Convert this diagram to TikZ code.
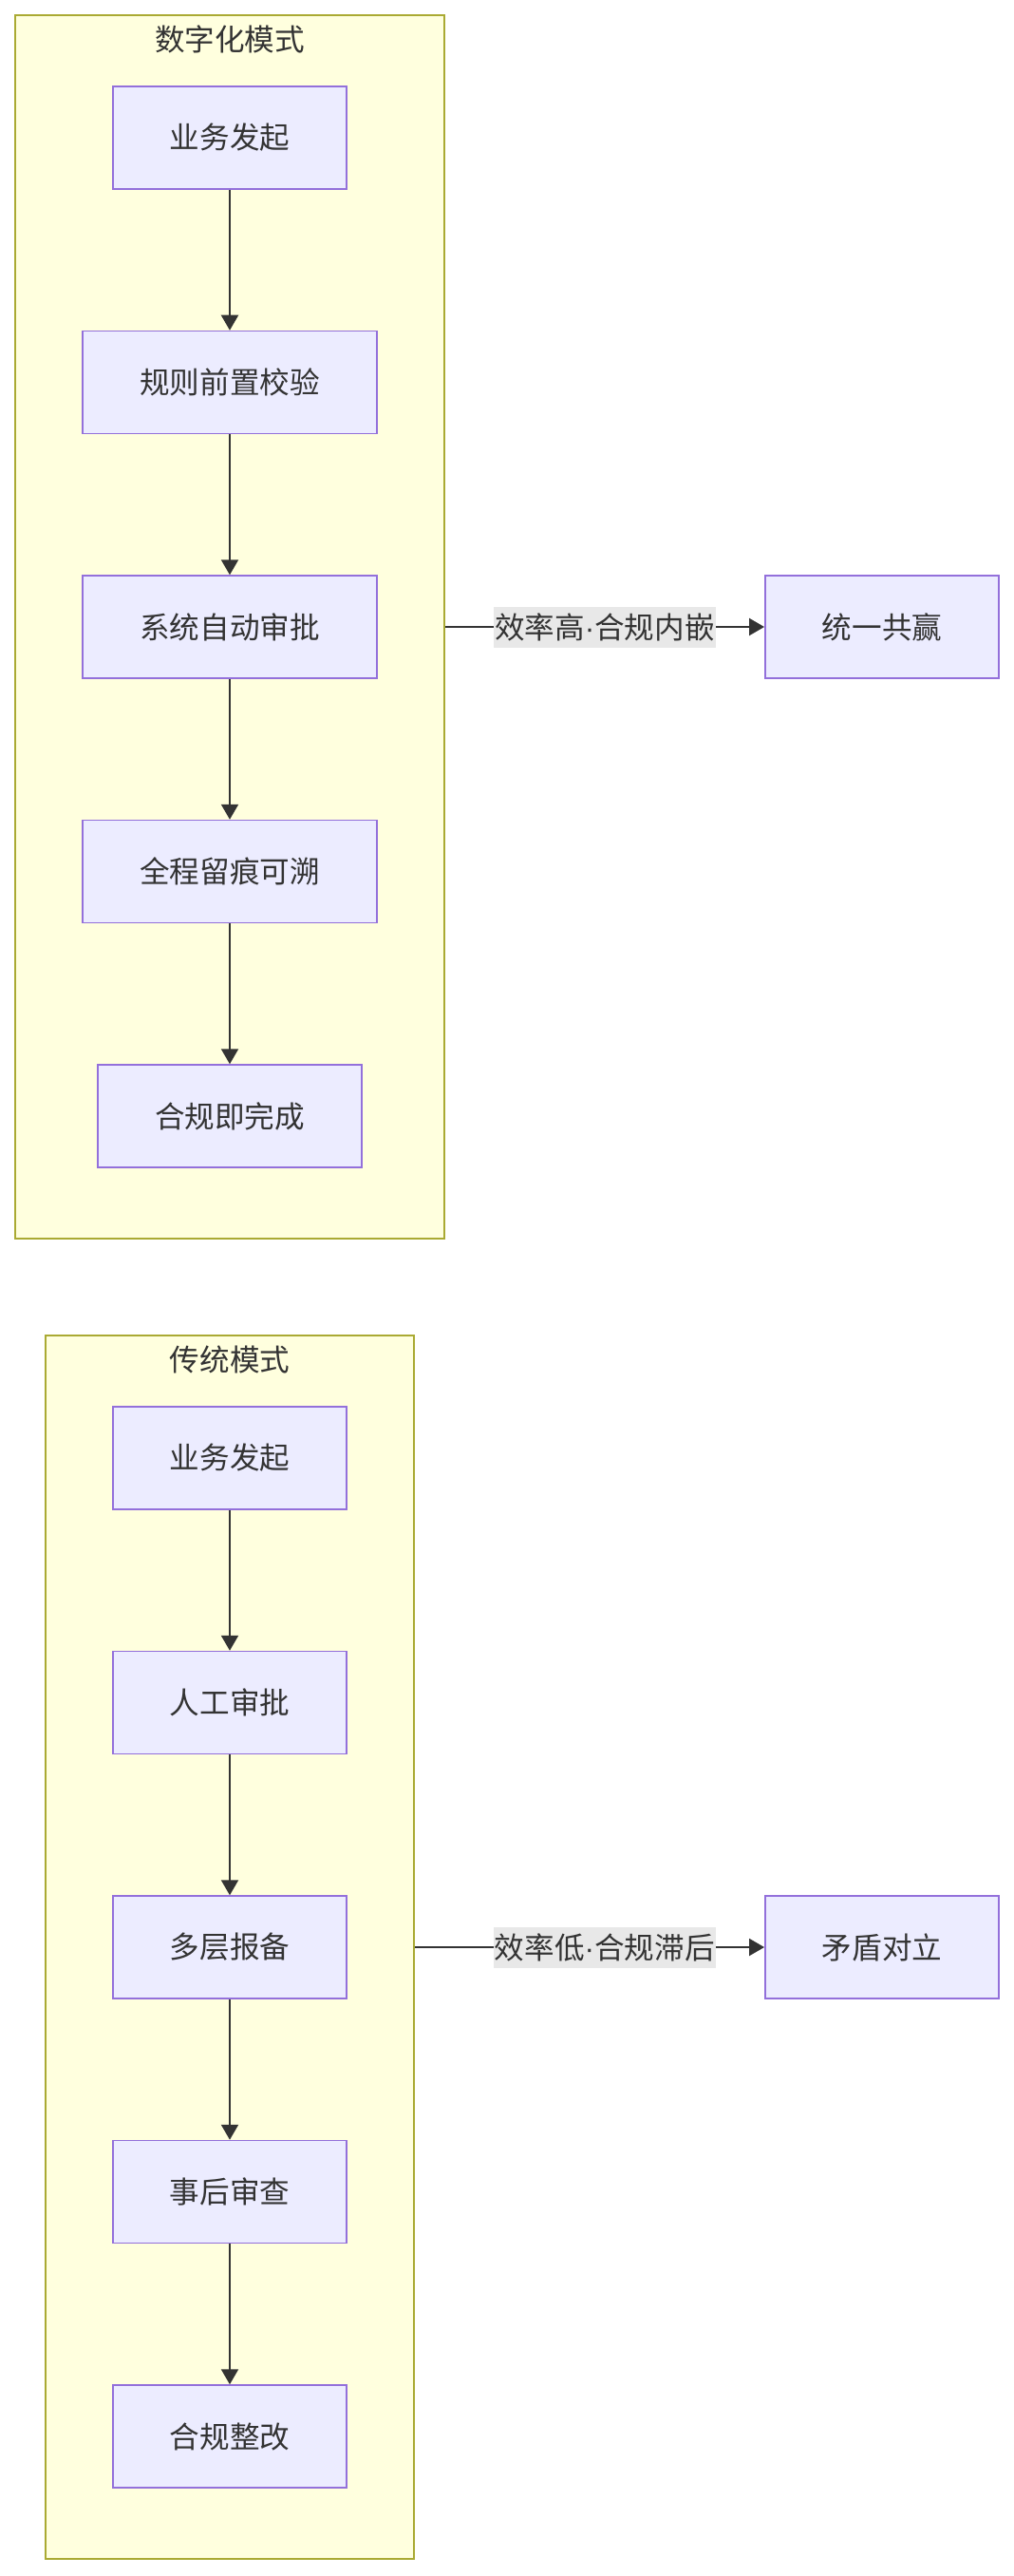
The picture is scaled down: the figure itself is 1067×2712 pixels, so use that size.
\documentclass[tikz,border=0pt]{standalone}
\usepackage{fontspec}
\setmainfont{Noto Sans CJK SC}
\newfontfamily\dotfont{Liberation Sans}
\usetikzlibrary{arrows.meta}
\definecolor{nodefill}{HTML}{ECECFF}
\definecolor{nodeline}{HTML}{9370DB}
\definecolor{grpfill}{HTML}{FFFFDE}
\definecolor{grpline}{HTML}{AAAA33}
\definecolor{ink}{HTML}{333333}
\definecolor{lblfill}{HTML}{E8E8E8}
\newcommand{\middot}{{\dotfont ·}}
\tikzset{
  stepbox/.style={draw=nodeline, fill=nodefill, line width=0.75pt, inner xsep=30pt, minimum height=54pt, text=ink},
  grp/.style={draw=grpline, fill=grpfill, line width=0.75pt, inner sep=0pt},
  grptitle/.style={text=ink, inner sep=0pt},
  lbl/.style={fill=lblfill, text=ink, inner xsep=0.5pt, minimum height=21.5pt},
  flow/.style={-{Triangle[length=8pt, width=9pt]}, draw=ink, line width=1pt}
}
\begin{document}
\begin{tikzpicture}[x=0.5pt, y=-0.5pt, font=\fontsize{15.8}{19}\selectfont]
	\useasboundingbox (0,0) rectangle (1067,2712);
	\node[grp, minimum width=226pt, minimum height=644pt] (G1) at (242,660) {};
	\node[grptitle] (T1) at (242,41) {数字化模式};
	\node[stepbox] (D1) at (242,145) {业务发起};
	\node[stepbox] (D2) at (242,402.5) {规则前置校验};
	\node[stepbox] (D3) at (242,660) {系统自动审批};
	\node[stepbox] (D4) at (242,917.5) {全程留痕可溯};
	\node[stepbox] (D5) at (242,1175) {合规即完成};
	\node[stepbox] (RD) at (929,660) {统一共赢};
	\draw[flow] (D1) -- (D2);
	\draw[flow] (D2) -- (D3);
	\draw[flow] (D3) -- (D4);
	\draw[flow] (D4) -- (D5);
	\draw[flow] (G1.east |- D3) -- (RD) node[lbl, midway] {效率高\middot 合规内嵌};

	\node[grp, minimum width=194pt, minimum height=644pt] (G2) at (242,2050) {};
	\node[grptitle] (T2) at (242,1431) {传统模式};
	\node[stepbox] (C1) at (242,1535) {业务发起};
	\node[stepbox] (C2) at (242,1792.5) {人工审批};
	\node[stepbox] (C3) at (242,2050) {多层报备};
	\node[stepbox] (C4) at (242,2307.5) {事后审查};
	\node[stepbox] (C5) at (242,2565) {合规整改};
	\node[stepbox] (RC) at (929,2050) {矛盾对立};
	\draw[flow] (C1) -- (C2);
	\draw[flow] (C2) -- (C3);
	\draw[flow] (C3) -- (C4);
	\draw[flow] (C4) -- (C5);
	\draw[flow] (G2.east |- C3) -- (RC) node[lbl, pos=0.543] {效率低\middot 合规滞后};
\end{tikzpicture}
\end{document}
